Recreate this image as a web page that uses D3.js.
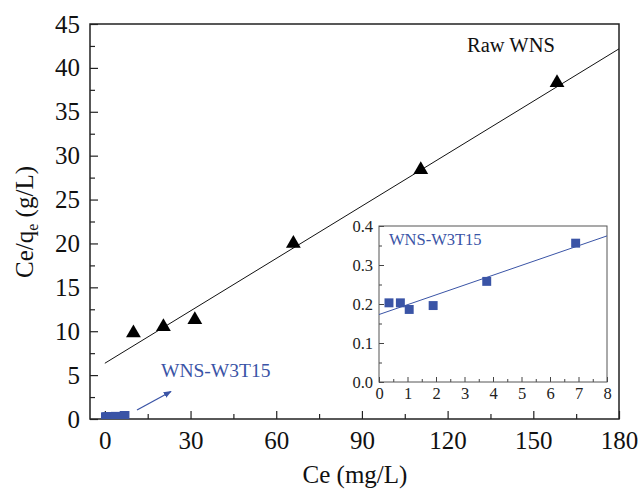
<!DOCTYPE html>
<html>
<head>
<meta charset="utf-8">
<script src="https://cdn.jsdelivr.net/npm/d3@7"></script>
<style>
  body { margin: 0; background: #fff; }
  svg text { font-family: "Liberation Serif", "Times New Roman", serif !important; }
</style>
</head>
<body>
<div class="chart"></div>
<script>
var width = 638;
var height = 489;

// Raw WNS (triangles)
var rawCe = [10, 20.5, 31.5, 66, 110.6, 158.3];
var rawCeQe = [9.8, 10.5, 11.3, 20.0, 28.4, 38.3];
var rawFit = { intercept: 6.35, slope: 0.199 };

// WNS-W3T15 (squares)
var w3Ce = [0.35, 0.75, 1.06, 1.9, 3.78, 6.9];
var w3CeQe = [0.203, 0.203, 0.186, 0.196, 0.258, 0.356];
var w3Fit = { intercept: 0.173, slope: 0.0252 };

// ticks
var xMajor = [0, 30, 60, 90, 120, 150, 180];
var xMinor = [15, 45, 75, 105, 135, 165];
var yMajor = [0, 5, 10, 15, 20, 25, 30, 35, 40, 45];
var yMinor = [2.5, 7.5, 12.5, 17.5, 22.5, 27.5, 32.5, 37.5, 42.5];
var ixMajor = [0, 1, 2, 3, 4, 5, 6, 7, 8];
var ixMinor = [0.5, 1.5, 2.5, 3.5, 4.5, 5.5, 6.5, 7.5];
var iyMajor = [0, 0.1, 0.2, 0.3, 0.4];
var iyMinor = [0.05, 0.15, 0.25, 0.35];

var blue = '#3a54a6';
var serif = '"Liberation Serif", "Times New Roman", serif';

var raw = rawCe.map(function(d, i){ return { x: d, y: rawCeQe[i] } });
var w3 = w3Ce.map(function(d, i){ return { x: d, y: w3CeQe[i] } });

var svg = d3.select('.chart')
	.append('svg')
	.attr('width', width)
	.attr('height', height)
	.style('font-family', serif)

var defs = svg.append('defs')
defs.append('clipPath').attr('id', 'clip')
	.append('rect').attr('x', 90).attr('y', 24).attr('width', 529).attr('height', 395)
defs.append('marker')
	.attr('id', 'arrow')
	.attr('viewBox', '0 0 10 10')
	.attr('refX', 9).attr('refY', 5)
	.attr('markerWidth', 8).attr('markerHeight', 8)
	.attr('markerUnits', 'userSpaceOnUse')
	.attr('orient', 'auto')
	.append('path').attr('d', 'M0,1 L10,5 L0,9 Z').attr('fill', blue)

// main scales
var x = d3.scaleLinear().domain([-5.2, 180]).range([90, 619]);
var y = d3.scaleLinear().domain([0, 45]).range([419, 24]);

function styleAxis(g, size) {
	g.attr('font-family', null).style('font-family', serif)
	g.select('.domain').remove()
	g.selectAll('line').attr('stroke', '#222').attr('stroke-width', 1.2)
	g.selectAll('text').attr('fill', '#111')
		.style('font-family', serif).style('font-size', size + 'px')
}

svg.append('g').attr('transform', 'translate(0,419)')
	.call(d3.axisBottom(x).tickValues(xMajor).tickSize(-8).tickSizeOuter(0).tickPadding(12))
	.call(styleAxis, 25)
svg.append('g').attr('transform', 'translate(0,419)')
	.call(d3.axisBottom(x).tickValues(xMinor).tickSize(-5).tickSizeOuter(0).tickFormat(''))
	.call(styleAxis, 25)
svg.append('g').attr('transform', 'translate(90,0)')
	.call(d3.axisLeft(y).tickValues(yMajor).tickSize(-8).tickSizeOuter(0).tickPadding(10))
	.call(styleAxis, 25)
svg.append('g').attr('transform', 'translate(90,0)')
	.call(d3.axisLeft(y).tickValues(yMinor).tickSize(-5).tickSizeOuter(0).tickFormat(''))
	.call(styleAxis, 25)

svg.append('rect')
	.attr('x', 90).attr('y', 24).attr('width', 529).attr('height', 395)
	.attr('fill', 'none').attr('stroke', '#222').attr('stroke-width', 1.5)

var plot = svg.append('g').attr('clip-path', 'url(#clip)')

// raw fit line
plot.append('line')
	.attr('x1', x(0)).attr('y1', y(rawFit.intercept))
	.attr('x2', x(180)).attr('y2', y(rawFit.intercept + rawFit.slope * 180))
	.attr('stroke', '#111').attr('stroke-width', 1)

plot.selectAll('.tri')
	.data(raw)
	.enter().append('path')
	.attr('class', 'tri')
	.attr('d', d3.symbol(d3.symbolTriangle, 95))
	.attr('transform', function(d){ return 'translate(' + x(d.x) + ',' + y(d.y) + ')' })
	.attr('fill', '#000')

plot.selectAll('.sq')
	.data(w3)
	.enter().append('path')
	.attr('class', 'sq')
	.attr('d', d3.symbol(d3.symbolSquare, 95))
	.attr('transform', function(d){ return 'translate(' + x(d.x) + ',' + y(d.y) + ')' })
	.attr('fill', blue)

svg.append('line')
	.attr('x1', 137).attr('y1', 410)
	.attr('x2', 171).attr('y2', 391.5)
	.attr('stroke', blue).attr('stroke-width', 1.3)
	.attr('marker-end', 'url(#arrow)')

svg.append('text')
	.attr('x', 161).attr('y', 377)
	.style('font-size', '19.5px').attr('fill', blue)
	.text('WNS-W3T15')

svg.append('text')
	.attr('x', 467).attr('y', 52)
	.style('font-size', '20.5px').attr('fill', '#111')
	.text('Raw WNS')

// axis titles
svg.append('text')
	.attr('x', 355).attr('y', 483)
	.attr('text-anchor', 'middle')
	.style('font-size', '25px').attr('fill', '#111')
	.text('Ce (mg/L)')

var yt = svg.append('text')
	.attr('transform', 'translate(33,222) rotate(-90)')
	.attr('text-anchor', 'middle')
	.style('font-size', '25px').attr('fill', '#111')
yt.append('tspan').text('Ce/q')
yt.append('tspan').style('font-size', '16px').attr('dy', 5).text('e')
yt.append('tspan').attr('dy', -5).text(' (g/L)')

// inset
var xi = d3.scaleLinear().domain([0, 8]).range([379, 607]);
var yi = d3.scaleLinear().domain([0, 0.4]).range([382, 226]);

svg.append('rect')
	.attr('x', 379).attr('y', 226).attr('width', 228).attr('height', 156)
	.attr('fill', '#fff')

function styleInset(g) {
	g.attr('font-family', null).style('font-family', serif)
	g.select('.domain').remove()
	g.selectAll('line').attr('stroke', '#444').attr('stroke-width', 1)
	g.selectAll('text').attr('fill', '#222')
		.style('font-family', serif).style('font-size', '16.5px')
}

svg.append('g').attr('transform', 'translate(0,382)')
	.call(d3.axisBottom(xi).tickValues(ixMajor).tickSize(-5).tickSizeOuter(0).tickPadding(5))
	.call(styleInset)
svg.append('g').attr('transform', 'translate(0,382)')
	.call(d3.axisBottom(xi).tickValues(ixMinor).tickSize(-3).tickSizeOuter(0).tickFormat(''))
	.call(styleInset)
svg.append('g').attr('transform', 'translate(379,0)')
	.call(d3.axisLeft(yi).tickValues(iyMajor).tickSize(-5).tickSizeOuter(0).tickPadding(6).tickFormat(d3.format('.1f')))
	.call(styleInset)
svg.append('g').attr('transform', 'translate(379,0)')
	.call(d3.axisLeft(yi).tickValues(iyMinor).tickSize(-3).tickSizeOuter(0).tickFormat(''))
	.call(styleInset)

svg.append('rect')
	.attr('x', 379).attr('y', 226).attr('width', 228).attr('height', 156)
	.attr('fill', 'none').attr('stroke', '#555').attr('stroke-width', 1)

svg.append('line')
	.attr('x1', xi(0)).attr('y1', yi(w3Fit.intercept))
	.attr('x2', xi(8)).attr('y2', yi(w3Fit.intercept + w3Fit.slope * 8))
	.attr('stroke', blue).attr('stroke-width', 1)

svg.selectAll('.isq')
	.data(w3)
	.enter().append('path')
	.attr('class', 'isq')
	.attr('d', d3.symbol(d3.symbolSquare, 80))
	.attr('transform', function(d){ return 'translate(' + xi(d.x) + ',' + yi(d.y) + ')' })
	.attr('fill', blue)

svg.append('text')
	.attr('x', 389).attr('y', 245)
	.style('font-size', '16.5px').attr('fill', blue)
	.text('WNS-W3T15')
</script>
</body>
</html>
